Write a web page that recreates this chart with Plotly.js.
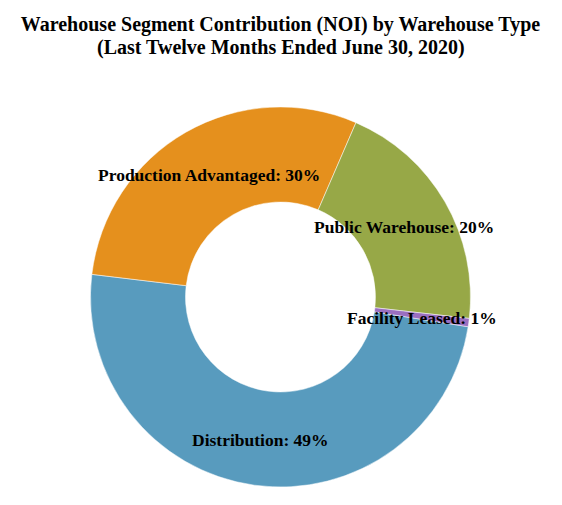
<!DOCTYPE html>
<html>
<head>
<meta charset="utf-8">
<script src="https://cdn.plot.ly/plotly-3.0.1.min.js"></script>
<style>html,body{margin:0;padding:0;background:#fff;}#chart{width:562px;height:505px;}</style>
</head>
<body>
<div id="chart"></div>
<script>
const categories = ["Distribution", "Production Advantaged", "Public Warehouse", "Facility Leased"];
const shares = [49.4, 29.6, 20.3, 0.7];
const colors = ["#589BBE", "#E5901D", "#97A847", "#9A6FC0"];
const titleLines = ["Warehouse Segment Contribution (NOI) by Warehouse Type", "(Last Twelve Months Ended June 30, 2020)"];

const W = 562, H = 505;
const cx = 280.5, cy = 297, R = 190.5;
const margin = {l: cx - R, r: W - (cx + R), t: cy - R, b: H - (cy + R)};
const hole = 0.5;
const rotation = 99;
const serif = "Liberation Serif, Times New Roman, serif";

// annotations computed from data values
const total = shares.reduce((a, b) => a + b, 0);
let ang = rotation; // degrees clockwise from 12 o'clock
const annotations = categories.map((c, i) => {
  const span = shares[i] / total * 360;
  const mid = (ang + span / 2) * Math.PI / 180;
  ang += span;
  const rr = (1 + hole) / 2 * 0.5; // fraction of domain width
  const x = 0.5 + rr * Math.sin(mid);
  const y = 0.5 + rr * Math.cos(mid) - 1.5 / (2 * R);
  return {
    text: "<b>" + c + ": " + Math.round(shares[i] / total * 100) + "%</b>",
    x: x, y: y, xref: "paper", yref: "paper",
    showarrow: false, xanchor: "center", yanchor: "middle",
    font: {family: serif, size: 17.5, color: "#000"}
  };
});

// second title line (paper coords: 0 at plot bottom, 1 at plot top)
annotations.push({
  text: "<b>" + titleLines[1] + "</b>",
  x: 0.5, xref: "paper", xanchor: "center",
  y: ((H - margin.b) - 47) / (2 * R), yref: "paper", yanchor: "middle",
  showarrow: false,
  font: {family: serif, size: 20, color: "#000"}
});

const data = [{
  type: "pie",
  labels: categories,
  values: shares,
  hole: hole,
  sort: false,
  direction: "clockwise",
  rotation: rotation,
  marker: {colors: colors, line: {color: "#ffffff", width: 0.5}},
  textinfo: "none",
  hoverinfo: "none",
  showlegend: false
}];

const layout = {
  width: W, height: H,
  margin: margin,
  paper_bgcolor: "#fff",
  plot_bgcolor: "#fff",
  showlegend: false,
  title: {
    text: "<b>" + titleLines[0] + "</b>",
    font: {family: serif, size: 20, color: "#000"},
    x: 0.5, xanchor: "center", xref: "paper",
    y: 1 - 24 / H, yref: "container", yanchor: "middle"
  },
  annotations: annotations
};

Plotly.newPlot("chart", data, layout, {displayModeBar: false, staticPlot: true});
</script>
</body>
</html>
